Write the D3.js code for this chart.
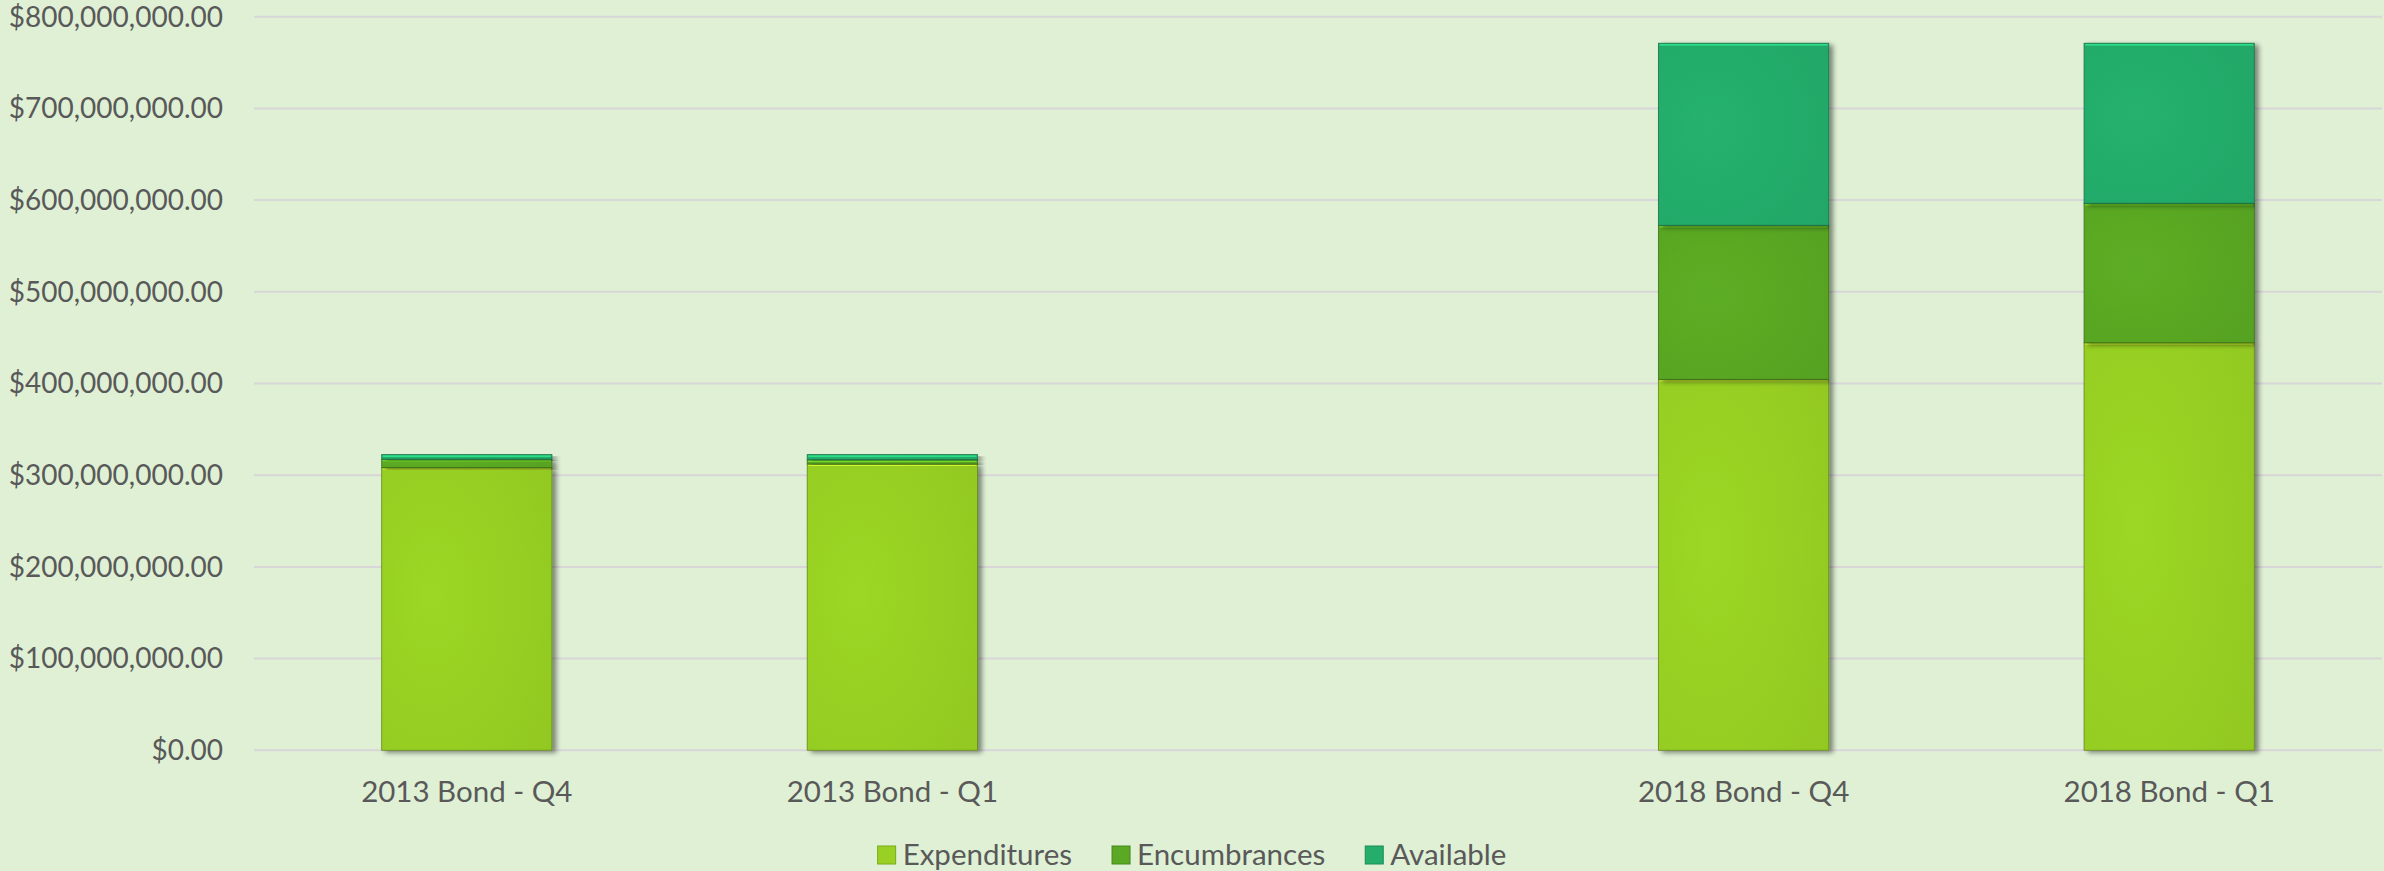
<!DOCTYPE html>
<html>
<head>
<meta charset="utf-8">
<script src="https://cdn.jsdelivr.net/npm/d3@7"></script>
<style>
  html, body { margin: 0; padding: 0; background: #DFF0D5; }
  svg { display: block; }
  text { font-family: Lato, "Noto Sans", sans-serif; fill: #595959; }
</style>
</head>
<body>
<svg id="chart" width="2384" height="871"></svg>
<script>
// ---- data ----
const categories = ["2013 Bond - Q4", "2013 Bond - Q1", "", "2018 Bond - Q4", "2018 Bond - Q1"];
const seriesNames = ["Expenditures", "Encumbrances", "Available"];
const expenditures = [308300000, 312300000, null, 404500000, 444500000];
const encumbrances = [9200000, 4700000, null, 168000000, 152000000];
const available = [5000000, 5500000, null, 198500000, 174500000];
const yTicks = [0, 100000000, 200000000, 300000000, 400000000, 500000000, 600000000, 700000000, 800000000];
const colors = ["#98D124", "#5AA824", "#24AD6B"];

// ---- layout ----
const W = 2384, H = 871;
const plot = { left: 254, right: 2382, top: 16.7, bottom: 750.3 };
const svg = d3.select("#chart");

svg.append("rect").attr("width", W).attr("height", H).attr("fill", "#DFF0D5");

const defs = svg.append("defs");
const shadow = defs.append("filter").attr("id", "shadow")
  .attr("x", "-10%").attr("y", "-10%").attr("width", "130%").attr("height", "130%");
shadow.append("feGaussianBlur").attr("in", "SourceAlpha").attr("stdDeviation", 2.5).attr("result", "blur");
shadow.append("feOffset").attr("in", "blur").attr("dx", 4).attr("dy", 2).attr("result", "off");
shadow.append("feComponentTransfer").attr("in", "off").attr("result", "offA")
  .append("feFuncA").attr("type", "linear").attr("slope", 0.45);
const merge = shadow.append("feMerge");
merge.append("feMergeNode").attr("in", "offA");
merge.append("feMergeNode").attr("in", "SourceGraphic");

colors.forEach((c, i) => {
  const g = defs.append("radialGradient").attr("id", "grad" + i)
    .attr("cx", "30%").attr("cy", "45%").attr("r", "90%");
  g.append("stop").attr("offset", "0%").attr("stop-color", d3.color(c).brighter(0.08));
  g.append("stop").attr("offset", "100%").attr("stop-color", d3.color(c).darker(0.12));
});

const x = d3.scaleBand().domain(categories.map((d, i) => i))
  .range([plot.left, plot.right]).paddingInner(0.6).paddingOuter(0.3);
const y = d3.scaleLinear().domain([0, 800000000]).range([plot.bottom, plot.top]);

// gridlines
svg.append("g").selectAll("line").data(yTicks).join("line")
  .attr("x1", plot.left).attr("x2", plot.right)
  .attr("y1", d => y(d)).attr("y2", d => y(d))
  .attr("stroke", "#D8D6D8").attr("stroke-width", 2);

// y labels
const fmt = d3.format(",.2f");
svg.append("g").selectAll("text").data(yTicks).join("text")
  .attr("x", 223).attr("y", d => y(d)).attr("dy", "0.35em")
  .attr("text-anchor", "end").attr("font-size", 28)
  .text(d => "$" + fmt(d));

// stacked data
const rows = categories.map((c, i) => ({
  idx: i, Expenditures: expenditures[i], Encumbrances: encumbrances[i], Available: available[i]
}));
const stack = d3.stack().keys(seriesNames).value((d, k) => d[k] || 0);
const stacked = stack(rows);

const barsG = svg.append("g");
stacked.forEach((layer, si) => {
  const g = barsG.append("g");
  layer.forEach((seg, ci) => {
    if (rows[ci][seriesNames[si]] == null) return;
    const x0 = x(ci), bw = x.bandwidth();
    const yTop = y(seg[1]), yBot = y(seg[0]);
    g.append("rect")
      .attr("x", x0).attr("y", yTop).attr("width", bw).attr("height", Math.max(0, yBot - yTop))
      .attr("fill", `url(#grad${si})`)
      .attr("stroke", d3.color(colors[si]).darker(1.2)).attr("stroke-width", 1)
      .attr("stroke-opacity", 0.8)
      .attr("filter", "url(#shadow)");
    // light bevel line at top of segment
    g.append("line")
      .attr("x1", x0 + 1).attr("x2", x0 + bw - 1)
      .attr("y1", yTop + 1.5).attr("y2", yTop + 1.5)
      .attr("stroke", d3.color(colors[si]).brighter(1.1)).attr("stroke-width", 1.2)
      .attr("stroke-opacity", 0.8);
  });
});

// x labels
svg.append("g").selectAll("text").data(categories.map((c, i) => ({ c, i })).filter(d => d.c !== ""))
  .join("text")
  .attr("x", d => x(d.i) + x.bandwidth() / 2).attr("y", 802)
  .attr("text-anchor", "middle").attr("font-size", 29.5)
  .text(d => d.c);

// legend
const legend = svg.append("g");
const items = seriesNames.map((name, i) => {
  const g = legend.append("g");
  g.append("rect").attr("x", 0).attr("y", -9).attr("width", 18).attr("height", 18)
    .attr("fill", colors[i]).attr("stroke", d3.color(colors[i]).darker(0.6)).attr("stroke-width", 1);
  const t = g.append("text").attr("x", 25).attr("y", 0).attr("dy", "0.35em")
    .attr("font-size", 29.5).text(name);
  return { g, w: 25 + t.node().getComputedTextLength() };
});
const gap = 40;
const totalW = d3.sum(items, d => d.w) + gap * (items.length - 1);
let cx = 1192 - totalW / 2;
items.forEach(it => { it.g.attr("transform", `translate(${cx},855)`); cx += it.w + gap; });
</script>
</body>
</html>
